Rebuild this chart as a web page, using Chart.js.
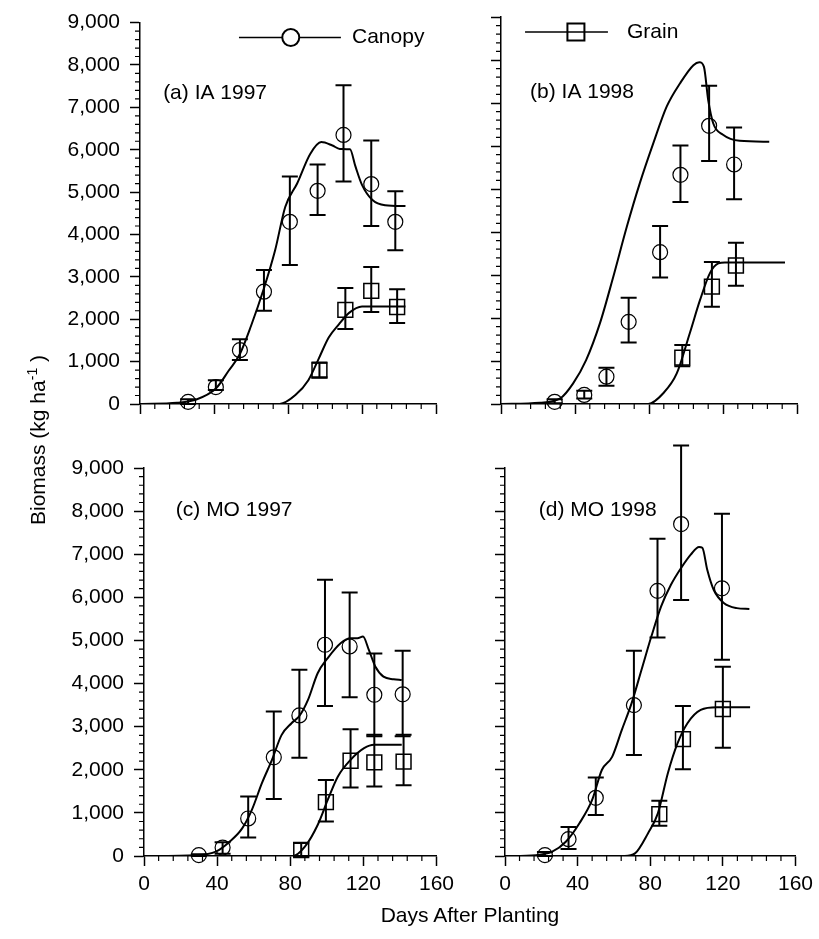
<!DOCTYPE html>
<html>
<head>
<meta charset="utf-8">
<script src="https://cdn.jsdelivr.net/npm/chart.js@4.4.1/dist/chart.umd.min.js"></script>
<style>
  body { margin: 0; background: #fff; width: 819px; height: 939px; position: relative; overflow: hidden;
         font-family: 'Liberation Sans', Arial, sans-serif; color: #000; }
  canvas { position: absolute; }
  #ytitle { position: absolute; left: 37px; top: 440px; transform: translate(-50%, -50%) rotate(-90deg);
            font-size: 21px; white-space: nowrap; }
  #ytitle sup { font-size: 14px; }
  #xtitle { position: absolute; left: 470px; top: 915px; transform: translate(-50%, -50%);
            font-size: 21px; white-space: nowrap; }
</style>
</head>
<body>
<canvas id="panelA" width="460" height="430" style="left:0px;top:0px"></canvas>
<canvas id="panelB" width="359" height="430" style="left:460px;top:0px"></canvas>
<canvas id="panelC" width="460" height="509" style="left:0px;top:430px"></canvas>
<canvas id="panelD" width="359" height="509" style="left:460px;top:430px"></canvas>
<div id="ytitle">Biomass (kg ha<sup>-1</sup> )</div>
<div id="xtitle">Days After Planting</div>
<script>
// (a) IA 1997
const aSimDays = [0, 20, 30, 41, 48, 54, 60, 67, 73, 78.5, 85, 92, 98, 104, 108, 113.5, 116.5, 120, 125.5, 132.5, 143.5];
const aSimCanopy = [0, 30, 100, 365, 790, 1180, 1840, 2730, 3620, 4650, 5210, 5900, 6180, 6100, 6020, 6010, 5600, 5170, 4820, 4690, 4670];
const aSimGrainDays = [0, 75.5, 84, 91, 96.5, 102, 107.5, 113, 120, 143.5];
const aSimGrain = [0, 0, 210, 560, 1060, 1570, 1880, 2150, 2300, 2300];
const aCanopyDays = [26, 41, 54, 67, 81, 96, 110, 125, 138];
const aCanopy = [50, 400, 1270, 2650, 4300, 5030, 6350, 5190, 4300];
const aCanopyLo = [0, 330, 1040, 2200, 3280, 4460, 5250, 4200, 3630];
const aCanopyHi = [110, 560, 1530, 3160, 5370, 5650, 7520, 6220, 5020];
const aGrainDays = [97, 111, 125, 139];
const aGrain = [790, 2220, 2670, 2290];
const aGrainLo = [630, 1770, 2170, 1910];
const aGrainHi = [980, 2740, 3230, 2710];

// (b) IA 1998
const bSimDays = [0, 21, 32, 39, 46, 53.5, 60.7, 68, 75, 82.3, 89.6, 96.8, 104, 107.2, 109.7, 112, 114.7, 120, 129, 145];
const bSimCanopy = [0, 30, 130, 480, 1020, 1880, 2960, 4120, 5130, 6060, 6920, 7460, 7880, 7950, 7840, 7070, 6530, 6260, 6120, 6100];
const bSimGrainDays = [0, 79.6, 87.7, 95, 102, 107.6, 113, 117.5, 121, 153.5];
const bSimGrain = [0, 0, 250, 710, 1640, 2420, 3050, 3270, 3290, 3290];
const bCanopyDays = [29, 45, 57, 69, 86, 97, 112.5, 126];
const bCanopy = [50, 210, 635, 1910, 3530, 5330, 6470, 5570];
const bCanopyLo = [20, 130, 425, 1430, 2940, 4700, 5650, 4760];
const bCanopyHi = [110, 310, 845, 2470, 4140, 6010, 7400, 6430];
const bGrainDays = [98, 114, 127];
const bGrain = [1080, 2730, 3220];
const bGrainLo = [880, 2260, 2750];
const bGrainHi = [1370, 3300, 3750];

// (c) MO 1997
const cSimDays = [0, 28.5, 39.3, 46.5, 53.7, 59, 64.5, 70, 75.3, 80.7, 85.2, 89.7, 95, 100.5, 107.7, 113, 116.8, 119.8, 123, 126.6, 131, 136.6, 141];
const cSimCanopy = [0, 20, 100, 320, 640, 1070, 1690, 2230, 2810, 3080, 3260, 3620, 4240, 4590, 4940, 5050, 5050, 5090, 4780, 4390, 4160, 4100, 4080];
const cSimGrainDays = [0, 81.6, 88, 95, 100.5, 106, 113, 120.4, 125.8, 141];
const cSimGrain = [0, 0, 215, 720, 1300, 1840, 2230, 2500, 2580, 2580];
const cCanopyDays = [30, 43, 57, 71, 85, 99, 112.5, 126, 141.5];
const cCanopy = [20, 195, 870, 2290, 3260, 4900, 4860, 3740, 3750];
const cCanopyLo = [0, 50, 430, 1320, 2280, 3480, 3680, 2780, 2780];
const cCanopyHi = [40, 320, 1380, 3350, 4320, 6410, 6110, 4700, 4760];
const cGrainDays = [86, 99.5, 113, 126, 142];
const cGrain = [140, 1250, 2210, 2170, 2190];
const cGrainLo = [0, 800, 1590, 1610, 1640];
const cGrainHi = [300, 1760, 2940, 2810, 2810];

// (d) MO 1998
const dSimDays = [0, 17, 26, 33.5, 41, 48, 53.4, 59, 64.3, 69.7, 75.2, 80.6, 86, 91.4, 97, 102.3, 106.9, 108.7, 111.4, 115, 120.5, 127.7, 134.6];
const dSimCanopy = [0, 20, 100, 330, 760, 1300, 2000, 2300, 2920, 3540, 4320, 5090, 5790, 6290, 6680, 6990, 7170, 7150, 6640, 6170, 5870, 5750, 5730];
const dSimGrainDays = [0, 66, 71.6, 78.8, 84.2, 89.7, 95, 100.5, 107.8, 116.8, 135];
const dSimGrain = [0, 0, 60, 530, 990, 1920, 2610, 3080, 3390, 3450, 3450];
const dCanopyDays = [22, 35, 50, 71, 84, 97, 119.5];
const dCanopy = [20, 390, 1350, 3500, 6150, 7700, 6210];
const dCanopyLo = [0, 160, 950, 2340, 5070, 5940, 4550];
const dCanopyHi = [90, 670, 1820, 4760, 7360, 9520, 7940];
const dGrainDays = [85, 98, 120];
const dGrain = [970, 2710, 3410];
const dGrainLo = [700, 2010, 2510];
const dGrainHi = [1280, 3480, 4390];

const xTicks = [0, 40, 80, 120, 160];
const yTicks = [0, 1000, 2000, 3000, 4000, 5000, 6000, 7000, 8000, 9000];

Chart.defaults.font.family = "'Liberation Sans', Arial, sans-serif";
Chart.defaults.font.size = 21;
Chart.defaults.color = '#000';

const pts = (xs, ys) => xs.map((x, i) => ({ x: x, y: ys[i] }));

// small ticks between the labelled ones, outside the axes
const minorTicks = {
  id: 'minorTicks',
  afterDraw(chart) {
    const ctx = chart.ctx, a = chart.chartArea;
    const xs = chart.scales.x, ys = chart.scales.y;
    ctx.save();
    ctx.strokeStyle = '#000';
    ctx.lineWidth = 1.2;
    ctx.beginPath();
    for (let d = 0; d <= 160; d += 8) {
      if (d % 40 === 0) continue;
      const px = xs.getPixelForValue(d);
      ctx.moveTo(px, a.bottom);
      ctx.lineTo(px, a.bottom + 5);
    }
    for (let v = 0; v <= 9000; v += 200) {
      if (v % 1000 === 0) continue;
      const py = ys.getPixelForValue(v);
      ctx.moveTo(a.left, py);
      ctx.lineTo(a.left - 5, py);
    }
    ctx.stroke();
    ctx.restore();
  }
};

// vertical error bars with caps, from the lo / hi arrays of a dataset
const errorBars = {
  id: 'errorBars',
  afterDatasetsDraw(chart) {
    const ctx = chart.ctx;
    const xs = chart.scales.x, ys = chart.scales.y;
    ctx.save();
    ctx.strokeStyle = '#000';
    ctx.lineWidth = 2;
    chart.data.datasets.forEach(ds => {
      if (!ds.lo) return;
      ds.data.forEach((p, j) => {
        const px = xs.getPixelForValue(p.x);
        const top = ys.getPixelForValue(ds.hi[j]);
        const bot = ys.getPixelForValue(ds.lo[j]);
        ctx.beginPath();
        ctx.moveTo(px, top); ctx.lineTo(px, bot);
        ctx.moveTo(px - 8, top); ctx.lineTo(px + 8, top);
        ctx.moveTo(px - 8, bot); ctx.lineTo(px + 8, bot);
        ctx.stroke();
      });
    });
    ctx.restore();
  }
};

// panel caption and the legend sample, placed in data units
const panelText = {
  id: 'panelText',
  afterDraw(chart, args, opts) {
    const ctx = chart.ctx;
    const xs = chart.scales.x, ys = chart.scales.y;
    ctx.save();
    ctx.fillStyle = '#000';
    ctx.font = "21px 'Liberation Sans', Arial, sans-serif";
    ctx.textBaseline = 'middle';
    ctx.textAlign = 'left';
    ctx.fillText(opts.label, xs.getPixelForValue(opts.lx), ys.getPixelForValue(opts.ly));
    const lg = opts.legend;
    if (lg) {
      const y = ys.getPixelForValue(lg.y);
      const m = xs.getPixelForValue(lg.mark);
      ctx.strokeStyle = '#000';
      ctx.lineWidth = 1.5;
      ctx.beginPath();
      ctx.moveTo(xs.getPixelForValue(lg.from), y);
      ctx.lineTo(xs.getPixelForValue(lg.to), y);
      ctx.stroke();
      ctx.lineWidth = 2;
      ctx.beginPath();
      if (lg.style === 'circle') {
        ctx.arc(m, y, 8.5, 0, Math.PI * 2);
        ctx.fillStyle = '#fff';
        ctx.fill();
      } else {
        ctx.rect(m - 8.5, y - 8.5, 17, 17);
      }
      ctx.stroke();
      ctx.fillStyle = '#000';
      ctx.fillText(lg.text, xs.getPixelForValue(lg.tx), y);
    }
    ctx.restore();
  }
};

function makePanel(id, p) {
  return new Chart(document.getElementById(id), {
    type: 'line',
    data: {
      datasets: [
        { data: pts(p.simDays, p.simCanopy), borderColor: '#000', borderWidth: 2, pointRadius: 0,
          cubicInterpolationMode: 'monotone' },
        { data: pts(p.simGrainDays, p.simGrain), borderColor: '#000', borderWidth: 2, pointRadius: 0,
          cubicInterpolationMode: 'monotone' },
        { data: pts(p.canopyDays, p.canopy), showLine: false, pointStyle: 'circle', pointRadius: 7.5,
          pointBorderWidth: 1.2, pointBorderColor: '#000', pointBackgroundColor: 'rgba(0,0,0,0)',
          borderColor: '#000', lo: p.canopyLo, hi: p.canopyHi, clip: false },
        { data: pts(p.grainDays, p.grain), showLine: false, pointStyle: 'rect', pointRadius: 10.5,
          pointBorderWidth: 1.5, pointBorderColor: '#000', pointBackgroundColor: 'rgba(0,0,0,0)',
          borderColor: '#000', lo: p.grainLo, hi: p.grainHi, clip: false }
      ]
    },
    options: {
      responsive: false,
      animation: false,
      devicePixelRatio: 1,
      layout: { padding: { left: 0, top: p.top, right: p.right, bottom: 0 } },
      plugins: {
        legend: { display: false },
        tooltip: { enabled: false },
        panelText: { label: p.label, lx: p.lx, ly: p.ly, legend: p.legend }
      },
      scales: {
        x: {
          type: 'linear', min: 0, max: 160,
          afterFit: s => { s.height = p.xh; },
          afterBuildTicks: s => { s.ticks = xTicks.map(v => ({ value: v })); },
          ticks: { display: p.xLabels, padding: 6 },
          grid: { drawOnChartArea: false, tickLength: 10, tickWidth: 1.5, tickColor: '#000' },
          border: { color: '#000', width: 1.5 }
        },
        y: {
          type: 'linear', min: 0, max: 9000,
          afterFit: s => { s.width = p.yw; },
          afterBuildTicks: s => { s.ticks = yTicks.map(v => ({ value: v })); },
          ticks: { display: p.yLabels, padding: 10, callback: v => v.toLocaleString('en-US') },
          grid: { drawOnChartArea: false, tickLength: 10, tickWidth: 1.5, tickColor: '#000' },
          border: { color: '#000', width: 1.5 }
        }
      }
    },
    plugins: [minorTicks, errorBars, panelText]
  });
}

makePanel('panelA', {
  simDays: aSimDays, simCanopy: aSimCanopy, simGrainDays: aSimGrainDays, simGrain: aSimGrain,
  canopyDays: aCanopyDays, canopy: aCanopy, canopyLo: aCanopyLo, canopyHi: aCanopyHi,
  grainDays: aGrainDays, grain: aGrain, grainLo: aGrainLo, grainHi: aGrainHi,
  top: 17, right: 24, xh: 26, yw: 140, xLabels: false, yLabels: true,
  label: '(a) IA 1997', lx: 12.5, ly: 7330,
  legend: { style: 'circle', from: 53.5, to: 108.6, mark: 81.5, tx: 114.6, y: 8650, text: 'Canopy' }
});
makePanel('panelB', {
  simDays: bSimDays, simCanopy: bSimCanopy, simGrainDays: bSimGrainDays, simGrain: bSimGrain,
  canopyDays: bCanopyDays, canopy: bCanopy, canopyLo: bCanopyLo, canopyHi: bCanopyHi,
  grainDays: bGrainDays, grain: bGrain, grainLo: bGrainLo, grainHi: bGrainHi,
  top: 17, right: 22, xh: 26, yw: 41, xLabels: false, yLabels: false,
  label: '(b) IA 1998', lx: 15.7, ly: 7250,
  legend: { style: 'rect', from: 13, to: 57.8, mark: 40.5, tx: 68.1, y: 8650, text: 'Grain' }
});
makePanel('panelC', {
  simDays: cSimDays, simCanopy: cSimCanopy, simGrainDays: cSimGrainDays, simGrain: cSimGrain,
  canopyDays: cCanopyDays, canopy: cCanopy, canopyLo: cCanopyLo, canopyHi: cCanopyHi,
  grainDays: cGrainDays, grain: cGrain, grainLo: cGrainLo, grainHi: cGrainHi,
  top: 38, right: 21, xh: 83, yw: 144, xLabels: true, yLabels: true,
  label: '(c) MO 1997', lx: 17.4, ly: 8030
});
makePanel('panelD', {
  simDays: dSimDays, simCanopy: dSimCanopy, simGrainDays: dSimGrainDays, simGrain: dSimGrain,
  canopyDays: dCanopyDays, canopy: dCanopy, canopyLo: dCanopyLo, canopyHi: dCanopyHi,
  grainDays: dGrainDays, grain: dGrain, grainLo: dGrainLo, grainHi: dGrainHi,
  top: 38, right: 19, xh: 83, yw: 45, xLabels: true, yLabels: false,
  label: '(d) MO 1998', lx: 18.6, ly: 8030
});
</script>
</body>
</html>
